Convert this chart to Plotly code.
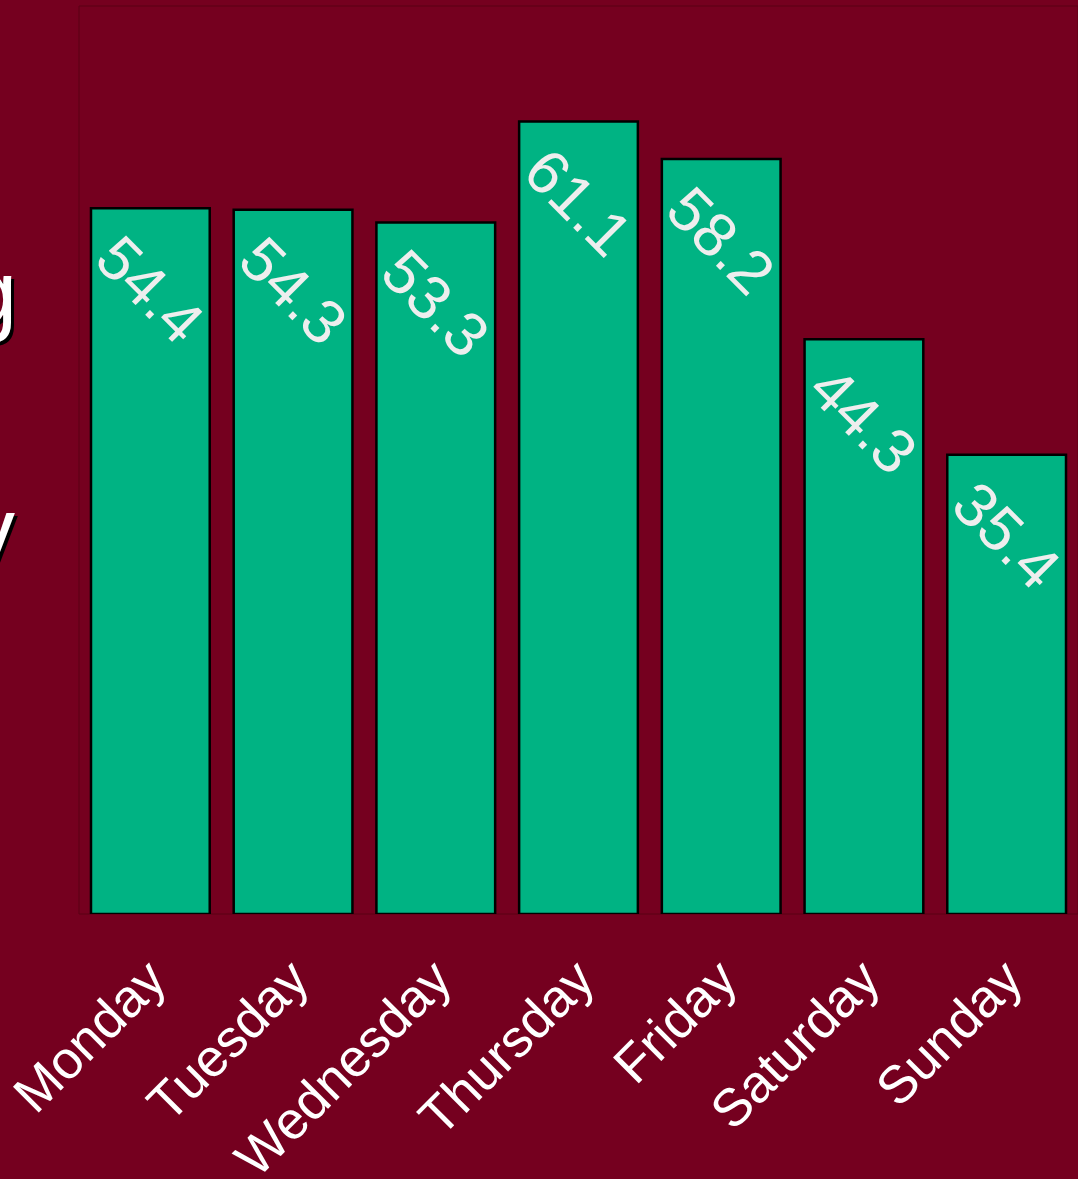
import plotly.graph_objects as go

days = ["Monday", "Tuesday", "Wednesday", "Thursday", "Friday", "Saturday", "Sunday"]
values = [54.4, 54.3, 53.3, 61.1, 58.2, 44.3, 35.4]
value_labels = ["54.4", "54.3", "53.3", "61.1", "58.2", "44.3", "35.4"]

BG = "#75001f"
BAR = "#00b383"
FONT = "Liberation Sans, Arial, sans-serif"

W, H = 1078, 1179
ML, MR, MT, MB = 79, 0, 6, 265
PW, PH = W - ML - MR, H - MT - MB


def px_to_paper(px, py):
    return (px - ML) / PW, (H - MB - py) / PH


fig = go.Figure()
fig.add_trace(go.Bar(
    x=days,
    y=values,
    marker=dict(color=BAR, line=dict(color="#000000", width=2.5)),
    hoverinfo="x+y",
))

# value labels, rotated, sitting just under each bar top
for d, v, t in zip(days, values, value_labels):
    fig.add_annotation(
        x=d, y=v, xref="x", yref="y",
        text=t, showarrow=False, textangle=45,
        yshift=-81,
        font=dict(family=FONT, size=62, color="#eeeeee"),
    )

# title fragments running off the left edge (white with a dark drop shadow)
for txt, rx, cy in [("g", 19, 293), ("y", 17, 530)]:
    for dx, dy, col in [(3, 3, "#000000"), (0, 0, "#ffffff")]:
        ax, ay = px_to_paper(rx + dx, cy + dy)
        fig.add_annotation(
            x=ax, y=ay, xref="paper", yref="paper",
            xanchor="right", yanchor="middle",
            text=txt, showarrow=False,
            font=dict(family=FONT, size=90, color=col),
        )

fig.update_layout(
    width=W, height=H,
    margin=dict(l=ML, r=MR, t=MT, b=MB, autoexpand=False),
    paper_bgcolor=BG,
    plot_bgcolor=BG,
    bargap=0.168,
    showlegend=False,
    font=dict(family=FONT, color="#ffffff"),
    shapes=[dict(type="rect", xref="paper", yref="paper", x0=0, x1=1, y0=0, y1=1,
                 line=dict(color="#5a0015", width=1), layer="below")],
)
fig.update_xaxes(
    tickangle=-45,
    tickfont=dict(family=FONT, size=53, color="#ffffff"),
    showline=False, showgrid=False, zeroline=False, ticks="",
    ticklabelstandoff=22,
    automargin=False,
)
fig.update_yaxes(
    range=[0, 70], showticklabels=False, showgrid=False, zeroline=False, showline=False,
    automargin=False,
)

fig.write_html("out.html")
